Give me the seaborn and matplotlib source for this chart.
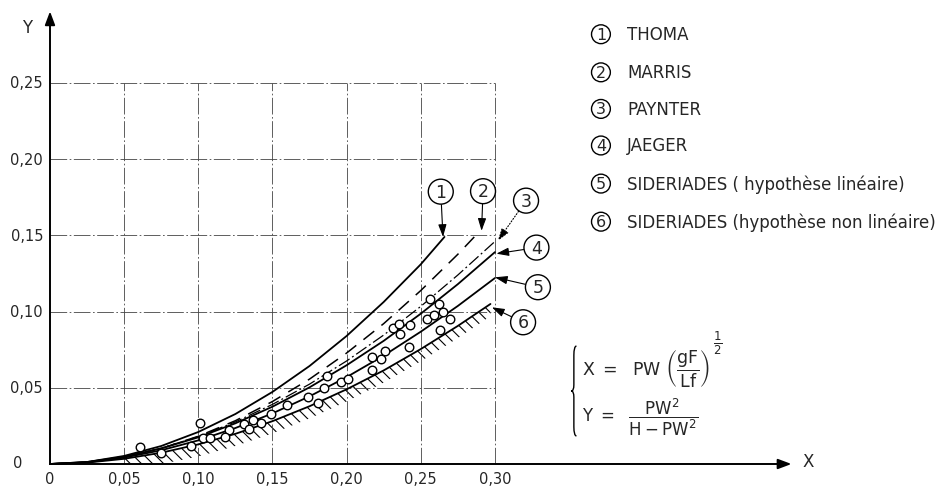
import numpy as np
import pandas as pd
import seaborn as sns
import matplotlib.pyplot as plt
from matplotlib.path import Path
from matplotlib.patches import PathPatch

# ---- curve readings (X, Y) ----
x_thoma = [0, 0.025, 0.05, 0.075, 0.10, 0.125, 0.15, 0.175, 0.20, 0.225, 0.25, 0.266]
y_thoma = [0, 0.0013, 0.0053, 0.0118, 0.021, 0.0328, 0.0473, 0.0643, 0.084, 0.1063, 0.131, 0.149]

x_marris = [0, 0.025, 0.05, 0.075, 0.10, 0.125, 0.15, 0.175, 0.20, 0.225, 0.25, 0.275, 0.29]
y_marris = [0, 0.0011, 0.0046, 0.0102, 0.0182, 0.0284, 0.041, 0.0557, 0.0728, 0.0921, 0.1138, 0.1376, 0.153]

x_paynter = [0, 0.025, 0.05, 0.075, 0.10, 0.125, 0.15, 0.175, 0.20, 0.225, 0.25, 0.275, 0.30]
y_paynter = [0, 0.0013, 0.0048, 0.0104, 0.018, 0.0276, 0.0391, 0.0524, 0.0676, 0.0846, 0.1034, 0.124, 0.146]

x_jaeger = [0, 0.025, 0.05, 0.075, 0.10, 0.125, 0.15, 0.175, 0.20, 0.225, 0.25, 0.275, 0.30]
y_jaeger = [0, 0.0013, 0.0047, 0.0102, 0.0175, 0.0267, 0.0376, 0.0503, 0.0648, 0.0808, 0.0986, 0.118, 0.139]

x_sid_lin = [0, 0.025, 0.05, 0.075, 0.10, 0.125, 0.15, 0.175, 0.20, 0.225, 0.25, 0.275, 0.30]
y_sid_lin = [0, 0.0011, 0.0042, 0.009, 0.0155, 0.0236, 0.0332, 0.0444, 0.057, 0.0711, 0.0868, 0.1037, 0.122]

x_sid_nl = [0, 0.025, 0.05, 0.075, 0.10, 0.125, 0.15, 0.175, 0.20, 0.225, 0.25, 0.275, 0.297]
y_sid_nl = [0, 0.0009, 0.0034, 0.0074, 0.0129, 0.0198, 0.0281, 0.0379, 0.049, 0.0614, 0.0754, 0.0906, 0.105]

# ---- measured points ----
pts_x = [0.061, 0.101, 0.075, 0.095, 0.103, 0.108, 0.121, 0.118, 0.131, 0.134, 0.137, 0.142,
         0.149, 0.160, 0.174, 0.181, 0.185, 0.187, 0.196, 0.201, 0.217, 0.217, 0.223, 0.226,
         0.231, 0.235, 0.236, 0.242, 0.243, 0.254, 0.256, 0.259, 0.262, 0.265, 0.263, 0.270]
pts_y = [0.011, 0.027, 0.007, 0.012, 0.017, 0.017, 0.022, 0.018, 0.026, 0.023, 0.029, 0.027,
         0.033, 0.039, 0.044, 0.040, 0.050, 0.058, 0.054, 0.056, 0.070, 0.062, 0.069, 0.074,
         0.089, 0.092, 0.085, 0.077, 0.091, 0.095, 0.108, 0.098, 0.105, 0.100, 0.088, 0.095]

# ---- text ----
numbers = ['1', '2', '3', '4', '5', '6']
names = ['THOMA', 'MARRIS', 'PAYNTER', 'JAEGER',
         'SIDERIADES ( hypothèse linéaire)', 'SIDERIADES (hypothèse non linéaire)']
xtick_vals = [0, 0.05, 0.10, 0.15, 0.20, 0.25, 0.30]
xtick_labels = ['0', '0,05', '0,10', '0,15', '0,20', '0,25', '0,30']
ytick_vals = [0.05, 0.10, 0.15, 0.20, 0.25]
ytick_labels = ['0,05', '0,10', '0,15', '0,20', '0,25']

curves = [(x_thoma, y_thoma), (x_marris, y_marris), (x_paynter, y_paynter),
          (x_jaeger, y_jaeger), (x_sid_lin, y_sid_lin), (x_sid_nl, y_sid_nl)]
styles = ['-', (0, (9, 6)), (0, (10, 2.5, 1.5, 2.5)), '-', '-', '-']
widths = [1.3, 1.1, 0.9, 1.3, 1.3, 1.3]

# label circle positions and arrow tips (curve ends)
label_pos = [(0.2635, 0.1787), (0.292, 0.179), (0.321, 0.1728),
             (0.328, 0.142), (0.329, 0.116), (0.319, 0.093)]
label_tip = [(0.265, 0.149), (0.291, 0.153), (0.302, 0.1465),
             (0.301, 0.138), (0.300, 0.1225), (0.298, 0.1028)]

sns.set_style('white')
plt.rcParams['font.family'] = ['DejaVu Sans']
plt.rcParams['mathtext.default'] = 'regular'
plt.rcParams['hatch.linewidth'] = 0.8

fig = plt.figure(figsize=(9.47, 4.89), dpi=100)
ax = fig.add_axes([0, 0, 1, 1])
ax.set_xlim(-50 / 1483, 897 / 1483)
ax.set_ylim(-24 / 1524, 465 / 1524)
ax.axis('off')

# grid of the drawing
grid_kws = dict(color='#444444', lw=0.6, ls=(0, (20, 3, 2, 3)))
ax.vlines(xtick_vals[1:], 0, 0.25, **grid_kws)
ax.hlines(ytick_vals, 0, 0.30, **grid_kws)

# axes with arrows
arrow_kws = dict(arrowstyle='-|>,head_length=0.8,head_width=0.3', color='k', lw=1.4,
                 shrinkA=0, shrinkB=0)
ax.annotate('', xy=(0, 0.297), xytext=(0, 0), arrowprops=arrow_kws)
ax.annotate('', xy=(0.50, 0), xytext=(0, 0), arrowprops=arrow_kws)
ax.text(-0.0155, 0.2867, 'Y', fontsize=12, ha='center', va='center')
ax.text(0.511, 0.002, 'X', fontsize=12, ha='center', va='center')

for v, lab in zip(xtick_vals, xtick_labels):
    ax.text(v, -0.0098, lab, fontsize=10.5, ha='center', va='center')
for v, lab in zip(ytick_vals, ytick_labels):
    ax.text(-0.0047, v, lab, fontsize=10.5, ha='right', va='center')
ax.text(-0.0216, 0.0013, '0', fontsize=10.5, ha='center', va='center')

# hatching below the lower limit curve
x6 = np.array(x_sid_nl[2:])
y6 = np.array(y_sid_nl[2:])
ax.fill_between(x6, np.maximum(y6 - 0.008, 0), y6, facecolor='none', edgecolor='k',
                hatch='\\\\\\', lw=0)

# curves
for (cx, cy), ls, lw in zip(curves, styles, widths):
    df = pd.DataFrame({'X': cx, 'Y': cy})
    sns.lineplot(data=df, x='X', y='Y', ax=ax, color='k', lw=lw, ls=ls, sort=False)

# measured points
sns.scatterplot(x=pts_x, y=pts_y, ax=ax, s=38, facecolor='white', edgecolor='k',
                linewidth=1, zorder=5)

# numbered labels with arrows
for i, (num, pos, tip) in enumerate(zip(numbers, label_pos, label_tip)):
    ax.annotate(num, xy=tip, xytext=pos, fontsize=12.5, ha='center', va='center',
                bbox=dict(boxstyle='circle,pad=0.2', fc='white', ec='k', lw=1),
                arrowprops=dict(arrowstyle='-|>,head_length=0.6,head_width=0.2', color='k',
                                lw=0.8, ls=':' if i == 2 else '-', shrinkA=0, shrinkB=0))

# legend list
leg_y = [0.282, 0.257, 0.233, 0.209, 0.184, 0.159]
for num, name, yy in zip(numbers, names, leg_y):
    ax.text(0.3715, yy, num, fontsize=11.5, ha='center', va='center',
            bbox=dict(boxstyle='circle,pad=0.12', fc='white', ec='k', lw=1))
    ax.text(0.389, yy, name, fontsize=12, ha='left', va='center')

# formula with its brace
bx, bw, b0, b1 = 0.3515, 0.0035, 0.0184, 0.0774
bm = (b0 + b1) / 2
brace = Path([(bx + bw, b1), (bx + bw / 2, b1), (bx + bw / 2, b1 - 0.006),
              (bx + bw / 2, bm + 0.004), (bx + bw / 2, bm), (bx, bm),
              (bx + bw / 2, bm), (bx + bw / 2, bm - 0.004),
              (bx + bw / 2, b0 + 0.006), (bx + bw / 2, b0), (bx + bw, b0)],
             [Path.MOVETO, Path.CURVE3, Path.CURVE3, Path.LINETO, Path.CURVE3, Path.CURVE3,
              Path.CURVE3, Path.CURVE3, Path.LINETO, Path.CURVE3, Path.CURVE3])
ax.add_patch(PathPatch(brace, fc='none', ec='k', lw=1))
ax.text(0.359, 0.0635, r'$X\ =\ \ PW\ \left(\dfrac{gF}{Lf}\right)$',
        fontsize=12.5, ha='left', va='center')
ax.text(0.447, 0.080, r'$\frac{1}{2}$', fontsize=12, ha='left', va='center')
ax.text(0.359, 0.0315, r'$Y\ =\ \ \dfrac{PW^2}{H - PW^2}$', fontsize=12, ha='left', va='center')

fig.savefig('out.png', dpi=100)
